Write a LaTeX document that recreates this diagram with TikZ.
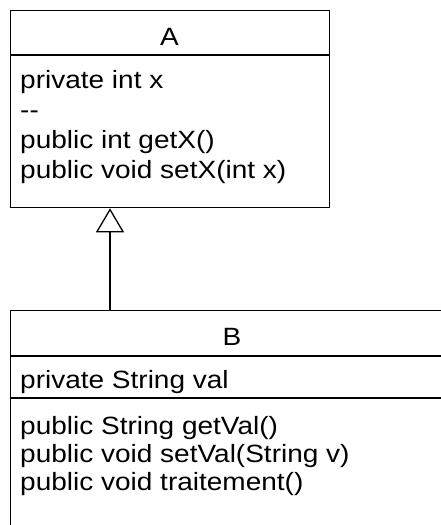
\documentclass[tikz,border=0pt]{standalone}
\usepackage{fontspec}
\setmainfont{Liberation Sans}[FakeStretch=1.12]
\usetikzlibrary{arrows.meta,calc}

\tikzset{
  classbox/.style={draw, line width=1.3pt, anchor=north west, inner sep=0pt},
  member/.style={anchor=base west, inner sep=0pt, font=\fontsize{25}{30}\selectfont},
  cname/.style={anchor=base, inner sep=0pt, font=\fontsize{25}{30}\selectfont},
  sep/.style={line width=1.3pt},
}

\begin{document}
\begin{tikzpicture}[x=1pt,y=-1pt]
    \clip (0,0) rectangle (441,525);
    % class A
    \node[classbox, minimum width=319pt, minimum height=197pt] (A) at (10,10) {};
    \draw[sep] (10,55) -- (329,55);
    \node[cname] (Aname) at (169.5,45) {A};
    \node[member] (Ax) at (20,88) {private int x};
    \node[member] (Asep) at (20,118) {{-}{-}};
    \node[member] (Aget) at (20,148) {public int getX()};
    \node[member] (Aset) at (20,178) {public void setX(int x)};

    % class B (runs off the page)
    \node[classbox, minimum width=444pt, minimum height=260pt] (B) at (10,310) {};
    \draw[sep] (10,356) -- (454,356); \draw[sep] (10,398) -- (454,398);
    \node[cname] (Bname) at (232,345) {B};
    \node[member] (Bval) at (20,388) {private String val};
    \node[member] (Bget) at (20,434) {public String getVal()};
    \node[member] (Bset) at (20,462) {public void setVal(String v)};
    \node[member] (Btrt) at (20,490) {public void traitement()};

    \coordinate (inh) at (110,0);
    \draw[sep, -{Triangle[open, length=24pt, width=28pt, line width=1.3pt]}] (B.north -| inh) -- (A.south -| inh);
\end{tikzpicture}
\end{document}
